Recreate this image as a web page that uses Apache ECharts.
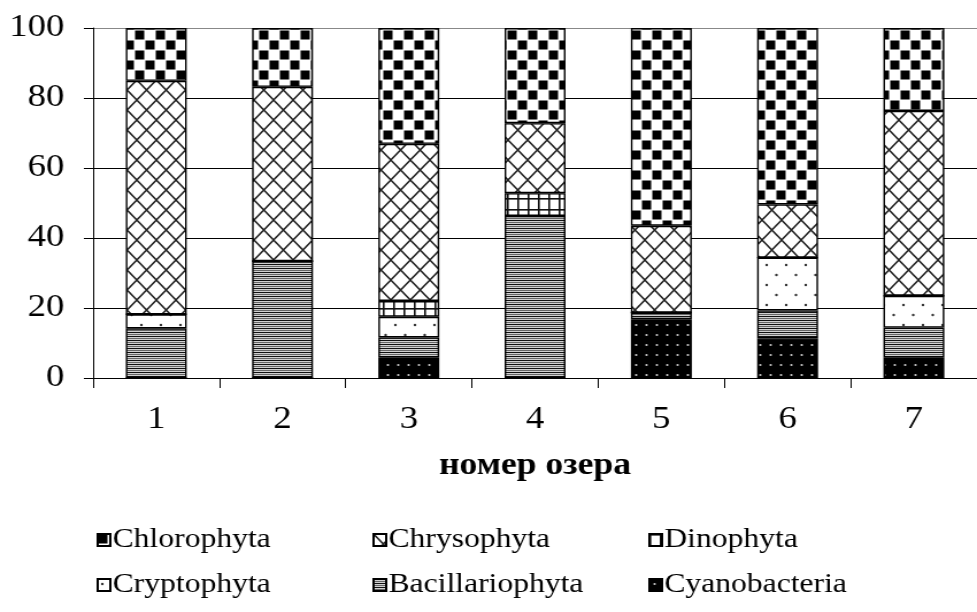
<!DOCTYPE html>
<html>
<head>
<meta charset="utf-8">
<script src="https://cdn.jsdelivr.net/npm/echarts@6/dist/echarts.min.js"></script>
<style>
html,body{margin:0;padding:0;background:#fff;overflow:hidden;}
#main{width:850px;height:612px;transform:scaleX(1.149412);transform-origin:0 0;}
</style>
</head>
<body>
<div id="main"></div>
<script>
// ---- data ----
const categories = ['1', '2', '3', '4', '5', '6', '7'];
const yTicks = [0, 20, 40, 60, 80, 100];
const seriesNames = ['Cyanobacteria', 'Bacillariophyta', 'Cryptophyta', 'Dinophyta', 'Chrysophyta', 'Chlorophyta'];
const cyanobacteria   = [0, 0, 5.9, 0, 16.8, 11.3, 5.8];
const bacillariophyta = [14.2, 33.4, 5.7, 46.3, 1.9, 8.0, 8.6];
const cryptophyta     = [4.0, 0, 5.9, 0, 0, 15.1, 9.1];
const dinophyta       = [0, 0, 4.5, 6.5, 0, 0, 0];
const chrysophyta     = [66.7, 49.8, 44.9, 20.0, 24.8, 15.2, 52.8];
const chlorophyta     = [15.1, 16.8, 33.1, 27.2, 56.5, 50.4, 23.7];
const axisTitle = 'номер озера';
const legendRows = [['Chlorophyta', 'Chrysophyta', 'Dinophyta'], ['Cryptophyta', 'Bacillariophyta', 'Cyanobacteria']];

// ---- patterns ----
function tile(w, h, draw) {
  const c = document.createElement('canvas');
  c.width = w; c.height = h;
  const g = c.getContext('2d');
  draw(g, w, h);
  return { image: c, repeat: 'repeat' };
}
const patterns = {
  Chlorophyta: tile(18, 20, (g, w, h) => {
    g.fillStyle = '#fff'; g.fillRect(0, 0, w, h);
    g.fillStyle = '#000';
    g.fillRect(0.5, 0.5, 8, 9);
    g.fillRect(9.5, 10.5, 8, 9);
  }),
  Chrysophyta: tile(17, 20, (g, w, h) => {
    g.fillStyle = '#fff'; g.fillRect(0, 0, w, h);
    g.strokeStyle = '#222'; g.lineWidth = 1.5;
    g.beginPath();
    g.moveTo(-1, -1.18); g.lineTo(w + 1, h + 1.18);
    g.moveTo(w + 1, -1.18); g.lineTo(-1, h + 1.18);
    g.stroke();
  }),
  Dinophyta: tile(9, 11, (g, w, h) => {
    g.fillStyle = '#fff'; g.fillRect(0, 0, w, h);
    g.fillStyle = '#111';
    g.fillRect(0, 0, 1.6, h);
    g.fillRect(0, 0, w, 1.6);
  }),
  Cryptophyta: tile(17, 20, (g, w, h) => {
    g.fillStyle = '#fff'; g.fillRect(0, 0, w, h);
    g.fillStyle = '#333';
    g.beginPath(); g.arc(4, 5, 1.2, 0, Math.PI * 2); g.fill();
    g.beginPath(); g.arc(12.5, 15, 1.2, 0, Math.PI * 2); g.fill();
  }),
  Bacillariophyta: tile(4, 4, (g, w, h) => {
    g.fillStyle = '#d0d0d0'; g.fillRect(0, 0, w, h);
    g.fillStyle = '#111'; g.fillRect(0, 0, w, 1);
    g.fillStyle = '#666'; g.fillRect(0, 2, w, 1);
  }),
  Cyanobacteria: tile(9, 10, (g, w, h) => {
    g.fillStyle = '#000'; g.fillRect(0, 0, w, h);
    g.fillStyle = '#ccc';
    g.beginPath(); g.arc(4.5, 5, 1.1, 0, Math.PI * 2); g.fill();
  })
};

const dataByName = {
  Cyanobacteria: cyanobacteria,
  Bacillariophyta: bacillariophyta,
  Cryptophyta: cryptophyta,
  Dinophyta: dinophyta,
  Chrysophyta: chrysophyta,
  Chlorophyta: chlorophyta
};

const serif = '"Liberation Serif", "Times New Roman", serif';

const series = seriesNames.map(name => ({
  name: name,
  type: 'bar',
  stack: 'total',
  barWidth: 53,
  data: dataByName[name],
  itemStyle: { color: patterns[name], borderColor: '#000', borderWidth: 1.4 },
  emphasis: { disabled: true }
}));

const legendLeft = [84, 324, 564];
const legendTop = [526, 571];
const legends = [];
legendRows.forEach((row, r) => {
  row.forEach((name, c) => {
    legends.push({
      data: [name],
      left: legendLeft[c],
      top: legendTop[r],
      padding: 0,
      icon: 'rect',
      itemWidth: 11,
      itemHeight: 12,
      selectedMode: false,
      textStyle: { fontFamily: serif, fontSize: 27.5, color: '#000', padding: [0, 0, 0, -3] }
    });
  });
});

const chart = echarts.init(document.getElementById('main'), null, { renderer: 'canvas' });
chart.setOption({
  animation: false,
  backgroundColor: '#fff',
  grid: { left: 81, right: -6, top: 28, bottom: 234, containLabel: false },
  legend: legends,
  xAxis: {
    type: 'category',
    data: categories,
    name: axisTitle,
    nameLocation: 'middle',
    nameGap: 88,
    nameTextStyle: { fontFamily: serif, fontSize: 31, fontWeight: 'bold', color: '#000', verticalAlign: 'middle' },
    axisLine: { lineStyle: { color: '#000', width: 1 } },
    axisTick: { show: true, length: 10, lineStyle: { color: '#000', width: 1 } },
    axisLabel: { fontFamily: serif, fontSize: 32, color: '#000', margin: 42, verticalAlign: 'middle' }
  },
  yAxis: {
    type: 'value',
    min: yTicks[0],
    max: yTicks[yTicks.length - 1],
    interval: yTicks[1] - yTicks[0],
    axisLine: { show: true, lineStyle: { color: '#000', width: 1 } },
    axisTick: { show: true, length: 8, lineStyle: { color: '#000', width: 1 } },
    axisLabel: { fontFamily: serif, fontSize: 32, color: '#000', margin: 25 },
    splitLine: { show: true, lineStyle: { color: ['#000', '#000', '#000', '#000', '#000', '#888'], width: 1 } }
  },
  series: series
});
</script>
</body>
</html>
